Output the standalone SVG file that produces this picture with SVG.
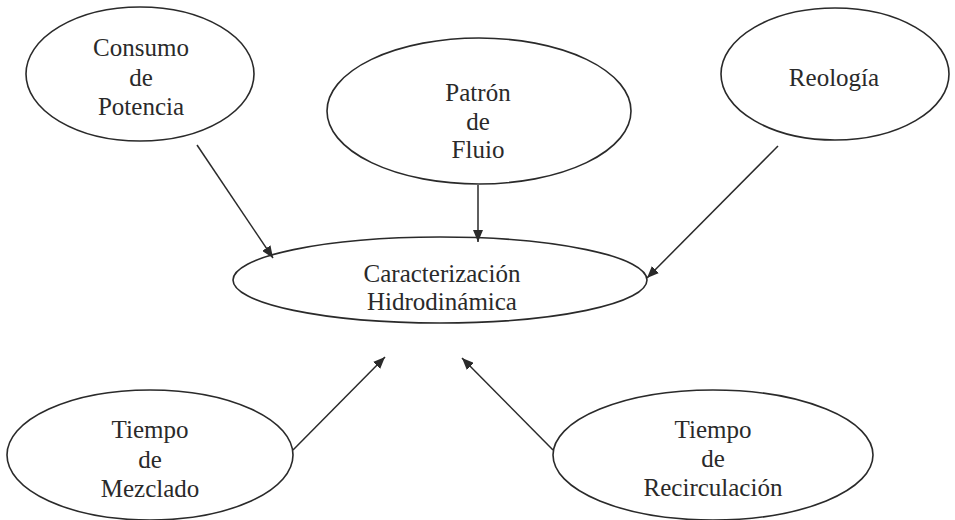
<svg xmlns="http://www.w3.org/2000/svg" width="955" height="520" viewBox="0 0 955 520">
<style>
.n{fill:none;stroke:#2a2a2a;stroke-width:1.6}
.t{font-family:'Liberation Serif','Times New Roman',serif;font-size:25px;fill:#2a2a2a;text-anchor:middle}
.c{stroke:#2a2a2a;stroke-width:1.5;fill:none;marker-end:url(#ah)}
</style>
<defs>
<marker id="ah" viewBox="0 0 12 10" refX="12" refY="5" markerWidth="12" markerHeight="10" markerUnits="userSpaceOnUse" orient="auto">
<path d="M0,0 L12,5 L0,10 Z" fill="#2a2a2a"/>
</marker>
</defs>
<rect width="955" height="520" fill="#fff"/>
<g id="connectors">
<line class="c" x1="197" y1="145" x2="273" y2="258"/>
<line class="c" x1="478" y1="185" x2="478" y2="242"/>
<line class="c" x1="778" y1="146" x2="647" y2="278"/>
<line class="c" x1="293" y1="450" x2="385" y2="357"/>
<line class="c" x1="553" y1="450" x2="462" y2="358"/>
</g>
<g id="consumo" class="t">
<ellipse class="n" cx="140" cy="74" rx="114" ry="67"/>
<text x="141" y="56">Consumo</text>
<text x="141" y="86">de</text>
<text x="141" y="115">Potencia</text>
</g>
<g id="patron" class="t">
<ellipse class="n" cx="479" cy="111" rx="152" ry="73"/>
<text x="478" y="101">Patrón</text>
<text x="478" y="130">de</text>
<text x="478" y="158">Fluio</text>
</g>
<g id="reologia" class="t">
<ellipse class="n" cx="835" cy="74" rx="114" ry="66"/>
<text x="834" y="86">Reología</text>
</g>
<g id="caracterizacion" class="t">
<ellipse class="n" cx="440" cy="280" rx="207" ry="43"/>
<text x="442" y="282">Caracterización</text>
<text x="442" y="310">Hidrodinámica</text>
</g>
<g id="mezclado" class="t">
<ellipse class="n" cx="150" cy="455" rx="143" ry="65"/>
<text x="150" y="438">Tiempo</text>
<text x="150" y="468">de</text>
<text x="150" y="497">Mezclado</text>
</g>
<g id="recirculacion" class="t">
<ellipse class="n" cx="713" cy="455" rx="160" ry="65"/>
<text x="713" y="438">Tiempo</text>
<text x="713" y="467">de</text>
<text x="713" y="496">Recirculación</text>
</g>
</svg>
